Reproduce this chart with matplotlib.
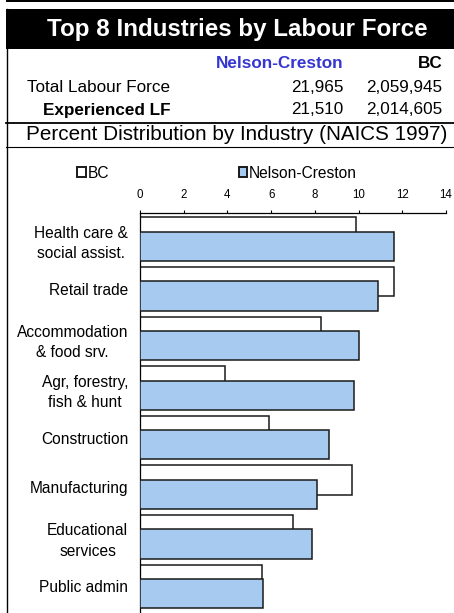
import matplotlib
matplotlib.use("Agg")
import matplotlib.pyplot as plt
from matplotlib.patches import Rectangle
from matplotlib.lines import Line2D

plt.rcParams['font.family'] = ['Liberation Sans', 'DejaVu Sans']

# ---- data ----
categories = ["Health care &\nsocial assist.", "Retail trade", "Accommodation\n& food srv.",
              "Agr, forestry,\nfish & hunt", "Construction", "Manufacturing",
              "Educational\nservices", "Public admin"]
bc_values = [9.9, 11.6, 8.3, 3.9, 5.9, 9.7, 7.0, 5.6]
nelson_values = [11.6, 10.9, 10.0, 9.8, 8.65, 8.1, 7.85, 5.65]
series_names = ["BC", "Nelson-Creston"]
xticks = [0, 2, 4, 6, 8, 10, 12, 14]

title = "Top 8 Industries by Labour Force"
header_cols = ["Nelson-Creston", "BC"]
row_labels = ["Total Labour Force", "Experienced LF"]
nelson_counts = ["21,965", "21,510"]
bc_counts = ["2,059,945", "2,014,605"]
subtitle = "Percent Distribution by Industry (NAICS 1997)"

W, H = 454, 613
fig = plt.figure(figsize=(W / 100, H / 100), dpi=100)
fig.patch.set_facecolor("white")


def fx(x):
    return x / W


def fy(y):
    return 1 - y / H


# ---- header graphics ----
fig.patches.append(Rectangle((fx(6), fy(2.2)), fx(454) - fx(6), 2.2 / H,
                             transform=fig.transFigure, facecolor="black", edgecolor="none"))
fig.patches.append(Rectangle((fx(6), fy(49.3)), fx(454) - fx(6), 40 / H,
                             transform=fig.transFigure, facecolor="black", edgecolor="none"))
fig.lines.append(Line2D([fx(6.7), fx(6.7)], [fy(9.3), fy(613)], transform=fig.transFigure,
                        color="black", lw=1.0))
fig.lines.append(Line2D([fx(6), fx(454)], [fy(122.7), fy(122.7)], transform=fig.transFigure,
                        color="black", lw=1.3))
fig.lines.append(Line2D([fx(6), fx(454)], [fy(146.5), fy(146.5)], transform=fig.transFigure,
                        color="black", lw=0.8))

fig.text(fx(237.5), fy(29.5), title, color="white", fontsize=17.4, fontweight="bold",
         ha="center", va="center")
fig.text(fx(343.3), fy(64), header_cols[0], color="#3636D0", fontsize=12.3, fontweight="bold",
         ha="right", va="center")
fig.text(fx(442.3), fy(64), header_cols[1], color="black", fontsize=12.3, fontweight="bold",
         ha="right", va="center")
fig.text(fx(26.7), fy(87.3), row_labels[0], fontsize=12.3, ha="left", va="center")
fig.text(fx(43.3), fy(110), row_labels[1], fontsize=12.3, fontweight="bold", ha="left", va="center")
for i, (n, b) in enumerate(zip(nelson_counts, bc_counts)):
    yy = [87.3, 110][i]
    fig.text(fx(343.3), fy(yy), n, fontsize=12.3, ha="right", va="center")
    fig.text(fx(442.3), fy(yy), b, fontsize=12.3, ha="right", va="center")
fig.text(fx(237), fy(134.3), subtitle, fontsize=14.9, ha="center", va="center")

# ---- chart ----
ax_top_px, ax_bot_px = 212.5, 613
ax = fig.add_axes([fx(140), fy(ax_bot_px), fx(446) - fx(140), (ax_bot_px - ax_top_px) / H])
ax.set_facecolor("none")

band_px = 49.6
center0_px = 239.2
ymin = -(center0_px - ax_top_px) / band_px
ymax = (ax_bot_px - center0_px) / band_px

pos = list(range(len(categories)))
h = 0.59
off = 0.145
ax.barh([p - off for p in pos], bc_values, height=h, color="white", edgecolor="#1a1a1a",
        linewidth=1.1, label=series_names[0], zorder=2)
ax.barh([p + off for p in pos], nelson_values, height=h, color="#A6CAF0", edgecolor="#1a1a1a",
        linewidth=1.1, label=series_names[1], zorder=3)

ax.set_xlim(0, 14)
ax.set_ylim(ymax, ymin)
ax.xaxis.tick_top()
ax.set_xticks(xticks)
ax.set_xticklabels([str(t) for t in xticks])
ax.tick_params(axis="x", direction="out", length=2.5, width=0.8, pad=6, labelsize=8.3,
               colors="black")
ax.set_yticks(pos)
ax.set_yticklabels(categories, fontsize=11.2, multialignment="center", linespacing=1.45)
ax.tick_params(axis="y", length=0, pad=8.5)
for s in ["right", "bottom"]:
    ax.spines[s].set_visible(False)
ax.spines["top"].set_linewidth(0.9)
ax.spines["left"].set_linewidth(0.9)

leg = fig.legend(loc="center left", bbox_to_anchor=(fx(77), fy(173)), ncol=2, frameon=False,
                 fontsize=11.2, handlelength=0.56, handleheight=0.56, handletextpad=0.1,
                 columnspacing=8.35, borderpad=0, borderaxespad=0)
for p in leg.get_patches():
    p.set_linewidth(1.4)

fig.savefig("out.png", dpi=100)
